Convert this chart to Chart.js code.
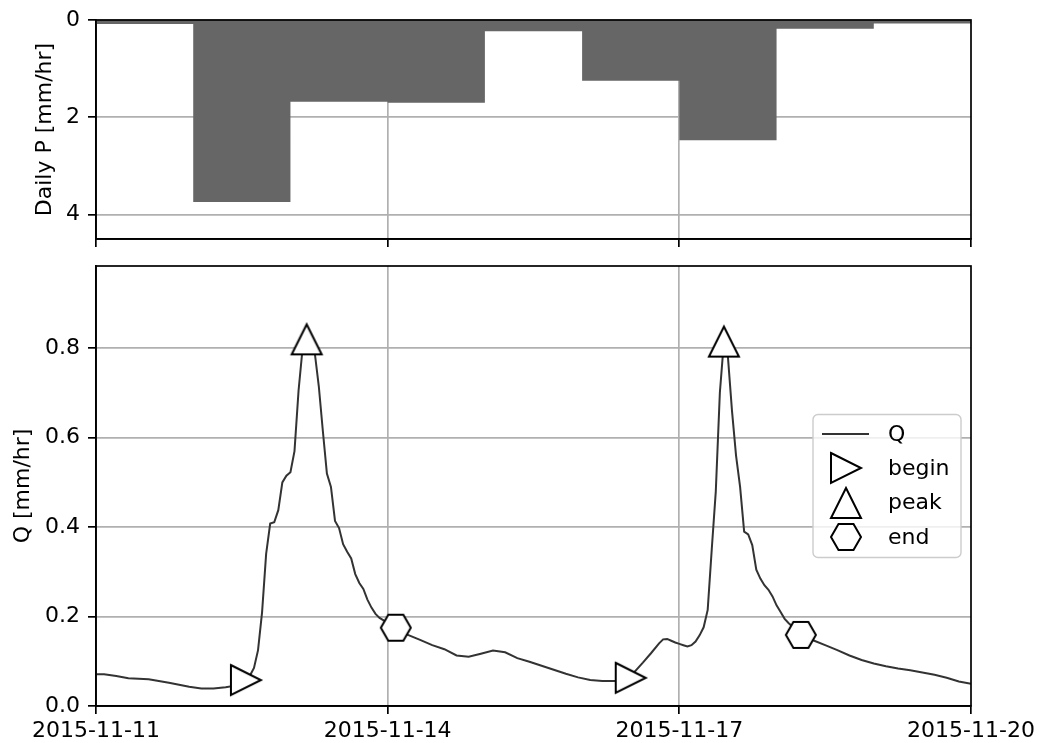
<!DOCTYPE html>
<html>
<head>
<meta charset="utf-8">
<script src="https://cdn.jsdelivr.net/npm/chart.js@4.4.1/dist/chart.umd.min.js"></script>
<style>
  html, body { margin: 0; padding: 0; background: #fff; }
  #wrap { position: relative; width: 1042px; height: 743px; }
  #pWrap { position: absolute; left: 0; top: 0; width: 1042px; height: 249px; }
  #qWrap { position: absolute; left: 0; top: 249px; width: 1042px; height: 494px; }
</style>
</head>
<body>
<div id="wrap">
  <div id="pWrap"><canvas id="pChart" width="1042" height="249"></canvas></div>
  <div id="qWrap"><canvas id="qChart" width="1042" height="494"></canvas></div>
</div>
<script>
// Time axis: hours since 2015-11-11 00:00
const tickHours = [0, 72, 144, 216];
const tickLabels = ['2015-11-11', '2015-11-14', '2015-11-17', '2015-11-20'];

// Daily precipitation [mm/hr], one value per day from 2015-11-11 to 2015-11-19
const dayLabels = ['2015-11-11', '2015-11-12', '2015-11-13', '2015-11-14', '2015-11-15',
                   '2015-11-16', '2015-11-17', '2015-11-18', '2015-11-19'];
const dailyP = [0.08, 3.74, 1.68, 1.70, 0.23, 1.25, 2.47, 0.18, 0.07];
const pTicks = [0, 2, 4];

// Streamflow Q [mm/hr]
const qHours = [0, 2, 5, 8, 13, 18, 23, 26, 29, 32, 34, 37, 38, 39, 40, 41, 42, 43, 44, 45,
  46, 47, 48, 49, 50, 51, 52, 53, 54, 55, 56, 57, 58, 59, 60, 61, 62, 63, 64, 65,
  66, 67, 68, 69, 70, 72, 74, 77, 80, 83, 86, 89, 92, 95, 98, 101, 104, 107, 110, 113,
  116, 119, 122, 125, 128, 130, 132, 133, 135, 137, 139, 140, 141, 142, 143, 144, 145, 146, 147, 148,
  149, 150, 151, 152, 153, 154, 155, 156, 157, 158, 159, 160, 161, 162, 163, 164, 165, 166, 167, 168,
  169, 170, 171, 172, 174, 176, 177, 180, 183, 186, 189, 192, 195, 198, 201, 204, 207, 210, 213, 216];
const qValues = [0.071, 0.071, 0.067, 0.062, 0.060, 0.052, 0.043, 0.039, 0.039, 0.042, 0.045, 0.058, 0.068, 0.085, 0.125, 0.21, 0.34, 0.408, 0.411, 0.438,
  0.50, 0.515, 0.523, 0.57, 0.705, 0.80, 0.82, 0.81, 0.79, 0.715, 0.615, 0.52, 0.49, 0.414, 0.398, 0.362, 0.345, 0.33, 0.295, 0.275,
  0.262, 0.238, 0.22, 0.206, 0.197, 0.186, 0.175, 0.159, 0.148, 0.136, 0.127, 0.113, 0.110, 0.117, 0.124, 0.120, 0.107, 0.099, 0.090, 0.081,
  0.072, 0.064, 0.058, 0.056, 0.056, 0.057, 0.063, 0.077, 0.097, 0.118, 0.140, 0.149, 0.150, 0.146, 0.142, 0.139, 0.136, 0.133, 0.136, 0.144,
  0.158, 0.176, 0.215, 0.35, 0.48, 0.70, 0.815, 0.78, 0.66, 0.56, 0.49, 0.39, 0.384, 0.36, 0.305, 0.285, 0.27, 0.26, 0.245, 0.225,
  0.21, 0.195, 0.185, 0.177, 0.159, 0.151, 0.147, 0.136, 0.125, 0.113, 0.103, 0.095, 0.089, 0.084, 0.080, 0.075, 0.070, 0.063, 0.055, 0.050];
const qTicks = [0, 0.2, 0.4, 0.6, 0.8];

// Event points
const beginHours = [37, 132];
const beginQ = [0.058, 0.063];
const peakHours = [52, 155];
const peakQ = [0.82, 0.815];
const endHours = [74, 174];
const endQ = [0.175, 0.159];

Chart.defaults.font.family = "'DejaVu Sans', sans-serif";
Chart.defaults.font.size = 22;
Chart.defaults.color = '#000';

const GRID = '#b0b0b0';
const LW = 1.7;

// Hollow marker glyphs: '>' triangle, '^' triangle, flat-topped hexagon
function markerCanvas(kind) {
  const c = document.createElement('canvas');
  c.width = 36; c.height = 36;
  const g = c.getContext('2d');
  g.beginPath();
  if (kind === 'begin') {
    g.moveTo(3, 3); g.lineTo(33, 18); g.lineTo(3, 33);
  } else if (kind === 'peak') {
    g.moveTo(18, 3); g.lineTo(33, 33); g.lineTo(3, 33);
  } else {
    for (let k = 0; k < 6; k++) {
      const a = k * Math.PI / 3;
      const px = 18 + 15 * Math.cos(a), py = 18 + 15 * Math.sin(a);
      if (k === 0) g.moveTo(px, py); else g.lineTo(px, py);
    }
  }
  g.closePath();
  g.fillStyle = '#fff';
  g.fill();
  g.lineWidth = 2;
  g.lineJoin = 'miter';
  g.strokeStyle = '#000';
  g.stroke();
  return c;
}

const toXY = (xs, ys) => xs.map((x, i) => ({ x: x, y: ys[i] }));

// Step outline for the daily totals: each value held over its day
const pPoints = dailyP.map((v, i) => ({ x: i * 24, y: v }));
pPoints.push({ x: dailyP.length * 24, y: dailyP[dailyP.length - 1] });

const gridColor = (edges) => (c) => (c.tick && edges.includes(c.tick.value)) ? 'rgba(0,0,0,0)' : GRID;

// Fixed axis boxes so the plot areas sit at exact positions
function fixHeight(h) {
  return (s) => { s.height = h; s.paddingLeft = 0; s.paddingRight = 0; s.paddingTop = 0; s.paddingBottom = 0; };
}
function fixWidth(w) {
  return (s) => { s.width = w; s.paddingLeft = 0; s.paddingRight = 0; s.paddingTop = 0; s.paddingBottom = 0; };
}

function xScale(showLabels, height, z) {
  return {
    type: 'linear', min: 0, max: 216, z: z,
    afterBuildTicks: (s) => { s.ticks = tickHours.map(v => ({ value: v })); },
    ticks: { display: showLabels, callback: (v, i) => tickLabels[i], maxRotation: 0, minRotation: 0, autoSkip: false, padding: 4 },
    grid: { color: gridColor([0, 216]), lineWidth: LW, tickLength: 8, tickColor: '#000', tickWidth: LW },
    border: { display: true, color: '#000', width: LW },
    afterFit: fixHeight(height)
  };
}

const framePlugin = {
  id: 'frame',
  afterDraw(chart) {
    const { ctx, chartArea: a } = chart;
    ctx.save();
    ctx.strokeStyle = '#000';
    ctx.lineWidth = LW;
    ctx.strokeRect(a.left, a.top, a.right - a.left, a.bottom - a.top);
    ctx.restore();
  }
};

function roundedRect(ctx, x, y, w, h, r) {
  ctx.beginPath();
  ctx.moveTo(x + r, y);
  ctx.arcTo(x + w, y, x + w, y + h, r);
  ctx.arcTo(x + w, y + h, x, y + h, r);
  ctx.arcTo(x, y + h, x, y, r);
  ctx.arcTo(x, y, x + w, y, r);
  ctx.closePath();
}

const legendPlugin = {
  id: 'insideLegend',
  afterDraw(chart) {
    const { ctx, chartArea: a } = chart;
    const items = chart.data.datasets;
    const w = 148, h = 143, rowH = 34.3;
    const x0 = a.right - 10 - w;
    const y0 = (a.top + a.bottom) / 2 - h / 2;
    ctx.save();
    roundedRect(ctx, x0, y0, w, h, 5);
    ctx.fillStyle = 'rgba(255,255,255,0.8)';
    ctx.fill();
    ctx.strokeStyle = '#cccccc';
    ctx.lineWidth = 1.4;
    ctx.stroke();
    ctx.font = "22px 'DejaVu Sans', sans-serif";
    ctx.fillStyle = '#000';
    ctx.textBaseline = 'middle';
    ctx.textAlign = 'left';
    items.forEach((ds, i) => {
      const cy = y0 + 19.5 + i * rowH;
      const cx = x0 + 33;
      if (ds.pointStyle instanceof HTMLCanvasElement) {
        ctx.drawImage(ds.pointStyle, Math.round(cx - 18), Math.round(cy - 18));
      } else {
        ctx.beginPath();
        ctx.moveTo(x0 + 9, cy);
        ctx.lineTo(x0 + 56, cy);
        ctx.strokeStyle = ds.borderColor;
        ctx.lineWidth = ds.borderWidth;
        ctx.stroke();
      }
      ctx.fillText(ds.label, x0 + 75, cy + 1);
    });
    ctx.restore();
  }
};

// Upper panel: daily precipitation, axis pointing down
new Chart(document.getElementById('pChart'), {
  type: 'line',
  data: {
    datasets: [{
      label: 'Daily P',
      data: pPoints,
      stepped: 'before',
      fill: 'origin',
      backgroundColor: '#666666',
      borderWidth: 0,
      borderColor: '#666666',
      pointRadius: 0
    }]
  },
  options: {
    responsive: false,
    animation: false,
    devicePixelRatio: 1,
    layout: { padding: { top: 20, right: 71, left: 0, bottom: 0 } },
    plugins: { legend: { display: false }, tooltip: { enabled: false } },
    scales: {
      x: xScale(false, 10, 1),
      y: {
        type: 'linear', min: 0, max: 4.5, reverse: true, z: 1,
        afterBuildTicks: (s) => { s.ticks = pTicks.map(v => ({ value: v })); },
        ticks: { callback: (v) => String(v), padding: 8 },
        grid: { color: GRID, lineWidth: LW, tickLength: 8, tickColor: '#000', tickWidth: LW },
        border: { display: true, color: '#000', width: LW },
        title: { display: true, text: 'Daily P [mm/hr]', padding: { top: 34, bottom: 0 }, font: { size: 22, lineHeight: 1 } },
        afterFit: fixWidth(96)
      }
    }
  },
  plugins: [framePlugin]
});

// Lower panel: streamflow with event markers
new Chart(document.getElementById('qChart'), {
  type: 'line',
  data: {
    datasets: [
      { label: 'Q', data: toXY(qHours, qValues), borderColor: '#333333', borderWidth: 2, pointRadius: 0, tension: 0, order: 2 },
      { label: 'begin', data: toXY(beginHours, beginQ), showLine: false, pointStyle: markerCanvas('begin'), pointRadius: 15, order: 1 },
      { label: 'peak', data: toXY(peakHours, peakQ), showLine: false, pointStyle: markerCanvas('peak'), pointRadius: 15, order: 1 },
      { label: 'end', data: toXY(endHours, endQ), showLine: false, pointStyle: markerCanvas('end'), pointRadius: 15, order: 1 }
    ]
  },
  options: {
    responsive: false,
    animation: false,
    devicePixelRatio: 1,
    layout: { padding: { top: 17, right: 71, left: 0, bottom: 0 } },
    plugins: { legend: { display: false }, tooltip: { enabled: false } },
    scales: {
      x: xScale(true, 37, 0),
      y: {
        type: 'linear', min: 0, max: 0.984,
        afterBuildTicks: (s) => { s.ticks = qTicks.map(v => ({ value: v })); },
        ticks: { callback: (v) => v.toFixed(1), padding: 8 },
        grid: { color: gridColor([0]), lineWidth: LW, tickLength: 8, tickColor: '#000', tickWidth: LW },
        border: { display: true, color: '#000', width: LW },
        title: { display: true, text: 'Q [mm/hr]', padding: { top: 12, bottom: 0 }, font: { size: 22, lineHeight: 1 } },
        afterFit: fixWidth(96)
      }
    }
  },
  plugins: [framePlugin, legendPlugin]
});
</script>
</body>
</html>
